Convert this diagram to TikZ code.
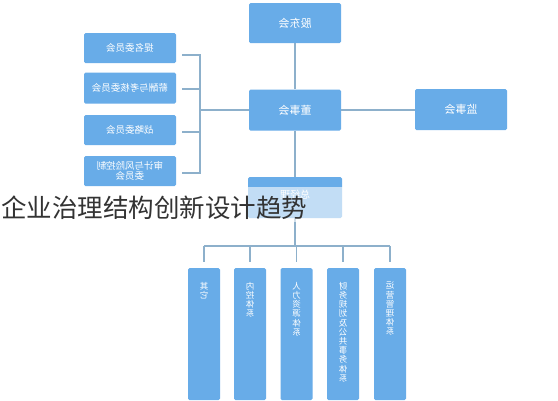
\documentclass[tikz,border=0pt]{standalone}
\usepackage{fontspec}
\usepackage{graphicx}
\newfontfamily\cjk{Noto Sans CJK SC}
\XeTeXlinebreaklocale "zh"
\XeTeXlinebreakskip=0pt plus 1pt
\usetikzlibrary{calc}
\definecolor{boxblue}{HTML}{68ACE8}
\definecolor{lineblue}{HTML}{8DB0CB}
\definecolor{capgray}{HTML}{333333}
\newcommand\vlab[1]{\reflectbox{\parbox{1.3em}{\centering #1}}}
\begin{document}
\begin{tikzpicture}[x=1pt,y=-1pt,
  box/.style={fill=boxblue, rounded corners=1.5pt, inner sep=0pt, text=white,
    font=\cjk\fontsize{9.5}{11}\selectfont},
  bigbox/.style={box, minimum width=92pt, minimum height=40pt, font=\cjk\fontsize{11}{13}\selectfont},
  sidebox/.style={box, minimum width=92pt, minimum height=30pt, align=center},
  colbox/.style={box, minimum width=32pt, minimum height=132pt},
  collab/.style={anchor=north, inner sep=0pt, text=white, font=\cjk\fontsize{8.5}{9.2}\selectfont},
  wire/.style={draw=lineblue, line width=1.4pt}]
\useasboundingbox (0,0) rectangle (558,400);
\fill[white] (0,0) rectangle (558,400);

% top boxes
\node[bigbox] (gd) at (295,23) {\reflectbox{股东会}};
\node[bigbox, minimum height=41pt] (ds) at (295,110) {\reflectbox{董事会}};
\node[bigbox, minimum height=41pt] (js) at (461,109.5) {\reflectbox{监事会}};

% committees
\node[sidebox] (tm) at (130,48) {\reflectbox{提名委员会}};
\node[sidebox, minimum height=31pt] (xc) at (130,88) {\reflectbox{薪酬与考核委员会}};
\node[sidebox] (zl) at (130,130) {\reflectbox{战略委员会}};
\node[sidebox, font=\cjk\fontsize{9.5}{10.5}\selectfont] (sj) at (130,171) {\reflectbox{审计与风险控制}\\\reflectbox{委员会}};

% general manager
\node[bigbox, minimum width=94pt, minimum height=41pt] (zj) at (295,197.5) {};
\node[inner sep=0pt, text=white, font=\cjk\fontsize{10}{12}\selectfont] (zjt) at (295,195) {\reflectbox{总经理}};

% bottom columns
\node[colbox] (b1) at (204,334) {};
\node[colbox] (b2) at (250,334) {};
\node[colbox] (b3) at (296.5,334) {};
\node[colbox] (b4) at (343,334) {};
\node[colbox] (b5) at (390,334) {};
\node[collab] (t1) at (b1.north |- 0,282) {\vlab{其它}};
\node[collab] (t2) at (b2.north |- 0,282) {\vlab{内控体系}};
\node[collab] (t3) at (b3.north |- 0,282) {\vlab{人力资源体系}};
\node[collab] (t4) at (b4.north |- 0,282) {\vlab{财务规划及公共事务体系}};
\node[collab] (t5) at (b5.north |- 0,282) {\vlab{运营管理体系}};

% connectors
\draw[wire] (gd.south) -- (ds.north);
\draw[wire] (ds.east) -- (ds.east -| js.west);
\draw[wire] (ds.south) -- (zj.north);
\coordinate (bt) at (200,55);
\coordinate (bb) at (200,173);
\coordinate (bm) at (200,110);
\draw[wire] ($(tm.east)+(6,7)$) -- (bt) -- (bb) -- ($(sj.east)+(6,2)$);
\draw[wire] ($(xc.east)+(6,1)$) -- ($(xc.east)+(24,1)$);
\draw[wire] ($(zl.east)+(6,2)$) -- ($(zl.east)+(24,2)$);
\draw[wire] (bm) -- (ds.west);
\coordinate (bus) at (295,246);
\draw[wire] (zj.south) -- (bus);
\draw[wire] (b1.north |- bus) -- (b5.north |- bus);
\foreach \b in {b1,b2,b3,b4,b5}{
  \draw[wire] (\b.north |- bus) -- ($(\b.north)+(0,-6)$);
}

% translucent band and caption
\fill[white, opacity=0.6] (0,187) rectangle (345,222);
\node[anchor=west, inner sep=0pt, text=capgray, font=\cjk\fontsize{25.5}{26}\selectfont] (cap) at (1,208) {企业治理结构创新设计趋势};
\end{tikzpicture}
\end{document}
